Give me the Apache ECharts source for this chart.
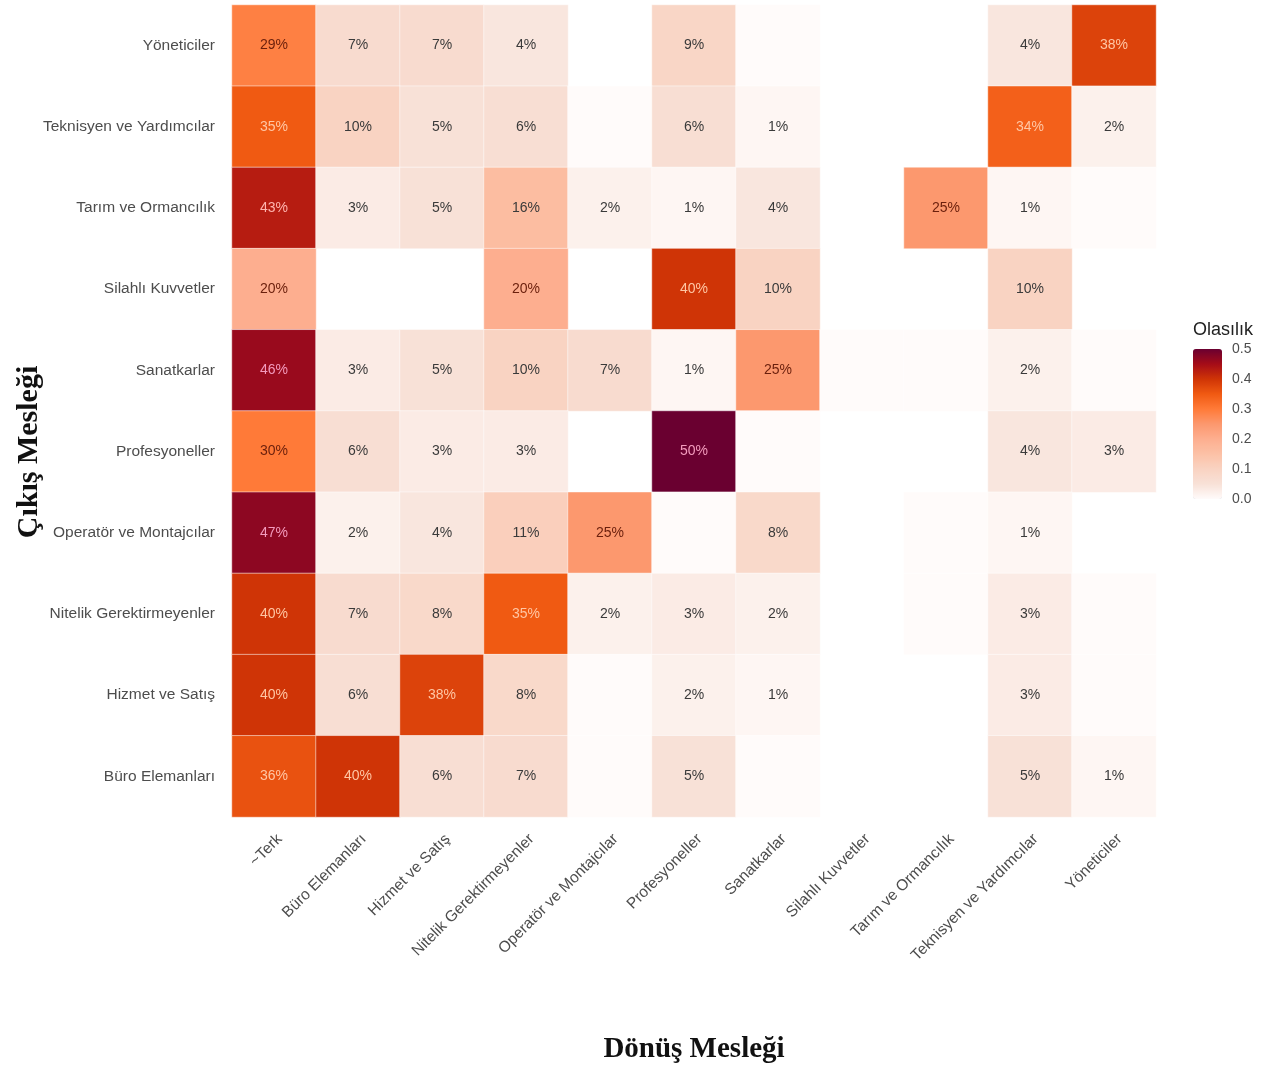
<!DOCTYPE html>
<html>
<head>
<meta charset="utf-8">
<script src="https://cdn.jsdelivr.net/npm/echarts/dist/echarts.min.js"></script>
<style>
html, body { margin: 0; padding: 0; background: #fff; }
#chart { width: 1266px; height: 1070px; }
</style>
</head>
<body>
<div id="chart"></div>
<script>
// dönüş mesleği (x), çıkış mesleği (y, yukarıdan aşağı)
const colCats = ['~Terk', 'Büro Elemanları', 'Hizmet ve Satış', 'Nitelik Gerektirmeyenler',
  'Operatör ve Montajcılar', 'Profesyoneller', 'Sanatkarlar', 'Silahlı Kuvvetler',
  'Tarım ve Ormancılık', 'Teknisyen ve Yardımcılar', 'Yöneticiler'];
const rowCats = ['Yöneticiler', 'Teknisyen ve Yardımcılar', 'Tarım ve Ormancılık', 'Silahlı Kuvvetler',
  'Sanatkarlar', 'Profesyoneller', 'Operatör ve Montajcılar', 'Nitelik Gerektirmeyenler',
  'Hizmet ve Satış', 'Büro Elemanları'];

// null = hücre yok, 0 = çok küçük olasılık (etiketsiz)
const yoneticiler    = [0.29, 0.07, 0.07, 0.04, null, 0.09, 0,    null, null, 0.04, 0.38];
const teknisyen      = [0.35, 0.10, 0.05, 0.06, 0,    0.06, 0.01, null, null, 0.34, 0.02];
const tarim          = [0.43, 0.03, 0.05, 0.16, 0.02, 0.01, 0.04, null, 0.25, 0.01, 0];
const silahli        = [0.20, null, null, 0.20, null, 0.40, 0.10, null, null, 0.10, null];
const sanatkarlar    = [0.46, 0.03, 0.05, 0.10, 0.07, 0.01, 0.25, 0,    0,    0.02, 0];
const profesyoneller = [0.30, 0.06, 0.03, 0.03, null, 0.50, 0,    null, null, 0.04, 0.03];
const operator       = [0.47, 0.02, 0.04, 0.11, 0.25, 0,    0.08, null, 0,    0.01, null];
const nitelik        = [0.40, 0.07, 0.08, 0.35, 0.02, 0.03, 0.02, null, 0,    0.03, 0];
const hizmet         = [0.40, 0.06, 0.38, 0.08, 0,    0.02, 0.01, null, null, 0.03, 0];
const buro           = [0.36, 0.40, 0.06, 0.07, 0,    0.05, 0,    null, null, 0.05, 0.01];

const rows = [yoneticiler, teknisyen, tarim, silahli, sanatkarlar, profesyoneller,
  operator, nitelik, hizmet, buro];

const colorStops = ['#fffbfa', '#f8e1d7', '#f9d3c2', '#fcc1a6', '#fdae8f', '#fc986e',
  '#ff7a38', '#f05a12', '#cf3406', '#a50c18', '#6a0030'];

function labelColor(v) {
  if (v >= 0.45) return '#f39bbd';
  if (v >= 0.41) return '#ffb4ae';
  if (v >= 0.33) return '#ffc6a4';
  if (v >= 0.2) return '#6a1f0c';
  return '#3a3a3a';
}

const data = [];
rows.forEach((r, ri) => {
  r.forEach((v, ci) => {
    if (v === null) return;
    data.push({ value: [ci, ri, v], label: { color: labelColor(v) } });
  });
});

const chart = echarts.init(document.getElementById('chart'));
const option = {
  backgroundColor: '#fff',
  animation: false,
  textStyle: { fontFamily: 'Liberation Sans, Arial, sans-serif' },
  grid: [
    { left: 232, right: 110, top: 5, bottom: 253 },
    { left: 1193, top: 349, width: 29, height: 150 }
  ],
  xAxis: [
    {
      type: 'category', data: colCats, gridIndex: 0,
      axisLine: { show: false }, axisTick: { show: false }, splitLine: { show: false },
      axisLabel: {
        interval: 0, rotate: 45, margin: 14, fontSize: 15.5, color: '#4d4d4d',
        align: 'right', verticalAlign: 'top'
      }
    },
    { type: 'value', gridIndex: 1, show: false, min: 0, max: 1 }
  ],
  yAxis: [
    {
      type: 'category', data: rowCats, gridIndex: 0, inverse: true,
      axisLine: { show: false }, axisTick: { show: false }, splitLine: { show: false },
      axisLabel: { margin: 17, fontSize: 15.5, color: '#4d4d4d' }
    },
    {
      type: 'value', gridIndex: 1, position: 'right', min: 0, max: 0.5, interval: 0.1, z: 10,
      axisLine: { show: false }, splitLine: { show: false },
      axisTick: { show: true, inside: true, length: 5, lineStyle: { color: '#ffffff', width: 1 } },
      axisLabel: { margin: 10, fontSize: 14, color: '#4d4d4d', formatter: v => v.toFixed(1) }
    }
  ],
  visualMap: {
    type: 'continuous', min: 0, max: 0.5, seriesIndex: 0, dimension: 2,
    orient: 'vertical', left: 1193, top: 349, itemWidth: 29, itemHeight: 150,
    padding: 0, calculable: false, text: null, showLabel: false,
    inRange: { color: colorStops }
  },
  graphic: [
    {
      type: 'text', x: 29, y: 452, rotation: Math.PI / 2,
      style: {
        text: 'Çıkış Mesleği', font: 'bold 30px "Liberation Serif", "Times New Roman", serif',
        fill: '#111', textAlign: 'center', textVerticalAlign: 'middle'
      }
    },
    {
      type: 'text', x: 694, y: 1050,
      style: {
        text: 'Dönüş Mesleği', font: 'bold 29px "Liberation Serif", "Times New Roman", serif',
        fill: '#111', textAlign: 'center', textVerticalAlign: 'middle'
      }
    },
    {
      type: 'text', x: 1193, y: 330,
      style: {
        text: 'Olasılık', font: '18px "Liberation Sans", Arial, sans-serif',
        fill: '#222', textAlign: 'left', textVerticalAlign: 'middle'
      }
    }
  ],
  series: [{
    type: 'heatmap',
    xAxisIndex: 0, yAxisIndex: 0,
    data: data,
    label: {
      show: true, fontSize: 14,
      formatter: p => (p.value[2] >= 0.005 ? Math.round(p.value[2] * 100) + '%' : '')
    },
    itemStyle: { borderColor: '#fff', borderWidth: 0.5 },
    emphasis: { disabled: true }
  }]
};
chart.setOption(option);
</script>
</body>
</html>
